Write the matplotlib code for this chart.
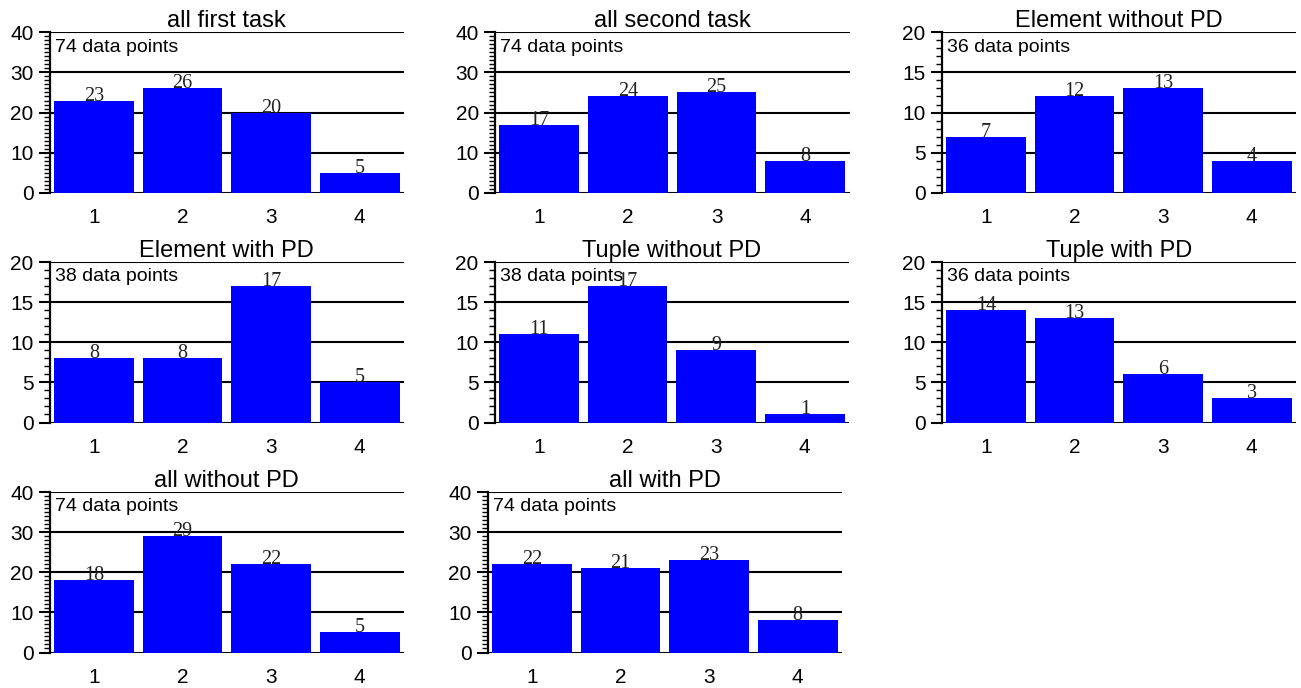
import matplotlib
matplotlib.use("Agg")
import matplotlib.pyplot as plt
from matplotlib.ticker import MultipleLocator

# Answer counts per rating (1-4) for each condition
titles = ["all first task", "all second task", "Element without PD",
          "Element with PD", "Tuple without PD", "Tuple with PD",
          "all without PD", "all with PD"]
counts = [
    [23, 26, 20, 5],
    [17, 24, 25, 8],
    [7, 12, 13, 4],
    [8, 8, 17, 5],
    [11, 17, 9, 1],
    [14, 13, 6, 3],
    [18, 29, 22, 5],
    [22, 21, 23, 8],
]
y_max = [40, 40, 20, 20, 20, 20, 40, 40]
y_step = [10, 10, 5, 5, 5, 5, 10, 10]
categories = [1, 2, 3, 4]

W, H = 1301, 688
fig = plt.figure(figsize=(W / 100, H / 100), dpi=100)

# panel left edges (pixels), one per panel; the last row's middle panel sits a bit further left
panel_left = [49.6, 495.0, 941.6,
              49.6, 494.6, 941.6,
              49.6, 487.5]
row_top = [32.3, 262.0, 492.0]
ax_w, ax_h = 354.5, 160.5

sans = "Liberation Sans"
serif = "Liberation Serif"

for i, (title, vals) in enumerate(zip(titles, counts)):
    r = i // 3
    left = panel_left[i] / W
    bottom = (H - row_top[r] - ax_h) / H
    ax = fig.add_axes([left, bottom, ax_w / W, ax_h / H])

    ax.bar(categories, vals, width=0.9, color="#0000ff", zorder=2)
    for x, v in zip(categories, vals):
        ax.text(x, v, str(v), ha="center", va="baseline",
                family=serif, fontsize=14.5, color="#222222", zorder=3)

    ax.set_xlim(0.5, 4.5)
    ax.set_ylim(0, y_max[i])
    ax.yaxis.set_major_locator(MultipleLocator(y_step[i]))
    ax.yaxis.set_minor_locator(MultipleLocator(1))
    ax.set_xticks(categories)

    ax.grid(axis="y", which="major", color="black", linewidth=1.5, zorder=1)
    ax.set_axisbelow(True)
    for s in ("top", "right", "bottom"):
        ax.spines[s].set_visible(False)
    ax.spines["left"].set_linewidth(1.6)

    ax.tick_params(axis="y", which="major", direction="out", length=8,
                   width=1.5, pad=3.5, labelsize=15)
    ax.tick_params(axis="y", which="minor", direction="out", length=4,
                   width=1.0)
    ax.tick_params(axis="x", which="both", length=0, pad=11, labelsize=15)
    for lab in ax.get_xticklabels() + ax.get_yticklabels():
        lab.set_family(sans)

    ax.set_title(title, family=sans, fontsize=17, pad=3)
    ax.annotate(f"{sum(vals)} data points", xy=(0, 1), xycoords="axes fraction",
                xytext=(3.8, -4.5), textcoords="offset points",
                ha="left", va="top", family=sans, fontsize=14, zorder=4)

fig.savefig("out.png", dpi=100)
